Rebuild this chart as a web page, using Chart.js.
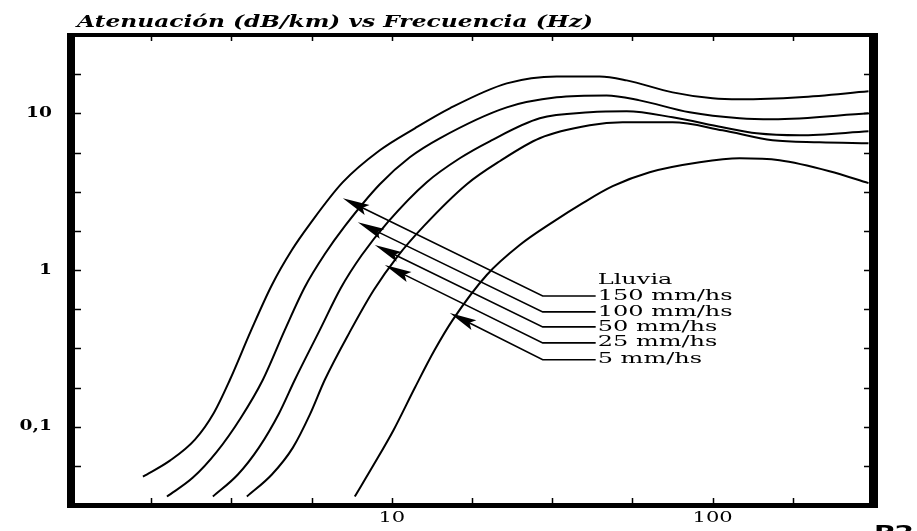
<!DOCTYPE html>
<html>
<head>
<meta charset="utf-8">
<script src="https://cdn.jsdelivr.net/npm/chart.js@4.4.1/dist/chart.umd.min.js"></script>
<style>
  html, body { margin: 0; padding: 0; background: #fff; }
  #wrap { width: 917px; height: 531px; }
</style>
</head>
<body>
<div id="wrap"><canvas id="attChart" width="917" height="531"></canvas></div>
<script>
// frequency (Hz) / attenuation (dB/km) pairs, one set per rain rate
var freq150 = [1.676, 2.034, 2.434, 2.790, 3.129, 3.637, 4.229, 4.881, 5.553, 7.037, 9.176, 11.80, 15.16, 22.82, 32.66, 44.46, 53.97, 75.05, 100, 121.4, 186.6, 306.2];
var att150  = [0.0480, 0.0607, 0.0827, 0.1228, 0.1993, 0.4088, 0.8025, 1.341, 1.963, 3.635, 5.811, 8.027, 10.76, 15.53, 17.21, 17.21, 16.23, 13.61, 12.46, 12.28, 12.65, 13.81];

var freq100 = [1.991, 2.399, 2.850, 3.385, 3.964, 4.642, 5.358, 6.184, 7.138, 9.176, 11.38, 14.11, 22.82, 32.66, 46.74, 59.24, 84.79, 121.4, 153.8, 306.2];
var att100  = [0.0358, 0.0473, 0.0693, 0.1141, 0.1993, 0.4148, 0.7790, 1.264, 1.906, 3.529, 5.245, 6.931, 10.92, 12.65, 13.02, 12.10, 10.15, 9.294, 9.158, 10.0];

var freq50 = [2.769, 3.313, 3.852, 4.446, 4.987, 5.968, 6.936, 8.064, 9.717, 12.85, 16.29, 20.20, 28.91, 41.39, 53.97, 75.05, 107.4, 137.1, 186.6, 306.2];
var att50  = [0.0358, 0.0495, 0.0735, 0.1210, 0.1993, 0.4148, 0.7676, 1.246, 2.021, 3.635, 5.168, 6.633, 9.294, 10.15, 10.30, 9.431, 8.145, 7.459, 7.243, 7.681];

var freq25 = [3.534, 4.229, 4.916, 5.553, 6.184, 7.398, 8.788, 10.44, 12.58, 17.13, 21.70, 28.91, 41.39, 52.44, 75.05, 107.4, 153.8, 215.4, 306.2];
var att25  = [0.0358, 0.0495, 0.0735, 0.1193, 0.1993, 0.4028, 0.7458, 1.228, 1.906, 3.529, 4.946, 6.931, 8.385, 8.763, 8.763, 7.794, 6.730, 6.536, 6.441];

var freq5 = [7.667, 8.788, 10.14, 11.80, 13.61, 15.49, 19.77, 25.05, 31.74, 39.36, 48.81, 63.65, 91.11, 121.4, 161.7, 231.4, 306.2];
var att5  = [0.0358, 0.0573, 0.0957, 0.1772, 0.3093, 0.4803, 0.9293, 1.443, 2.021, 2.672, 3.428, 4.209, 4.874, 5.168, 5.019, 4.272, 3.583];

// quarter-decade tick marks and the labelled ones
var xTickValues = [1.778, 3.162, 5.623, 10, 17.78, 31.62, 56.23, 100, 177.8];
var yTickValues = [0.05623, 0.1, 0.1778, 0.3162, 0.5623, 1, 1.778, 3.162, 5.623, 10, 17.78];
var xLabelValues = [10, 100];
var xLabelTexts = ['10', '100'];
var yLabelValues = [0.1, 1, 10];
var yLabelTexts = ['0,1', '1', '10'];

// call-out labels and where their arrows point (data coordinates)
var rainLabels = ['150 mm/hs', '100 mm/hs', '50 mm/hs', '25 mm/hs', '5 mm/hs'];
var arrowFreq = [7.037, 7.837, 8.851, 9.511, 15.16];
var arrowAtt = [2.874, 2.021, 1.443, 1.076, 0.532];
var labelAtt = [0.6831, 0.5401, 0.4334, 0.3428, 0.2672];

function pairs(xs, ys) {
    return xs.map(function (v, i) { return { x: v, y: ys[i] }; });
}

function stretchText(ctx, text, x, y, sx, align) {
    var w = ctx.measureText(text).width * sx;
    var left = align === 'right' ? x - w : (align === 'center' ? x - w / 2 : x);
    ctx.save();
    ctx.translate(left, y);
    ctx.scale(sx, 1);
    ctx.textAlign = 'left';
    ctx.fillText(text, 0, 0);
    ctx.restore();
}

var decorPlugin = {
    id: 'decor',
    afterDatasetsDraw: function (chart) {
        var ctx = chart.ctx;
        var a = chart.chartArea;
        var xs = chart.scales.x, ys = chart.scales.y;
        ctx.save();
        ctx.fillStyle = '#000';
        ctx.strokeStyle = '#000';

        // heavy frame
        ctx.fillRect(a.left - 4, a.top - 2, 8, a.bottom - a.top + 5);
        ctx.fillRect(a.right - 4, a.top - 2, 9, a.bottom - a.top + 5);
        ctx.fillRect(a.left - 4, a.top - 2, a.right - a.left + 9, 4);
        ctx.fillRect(a.left - 4, a.bottom - 2, a.right - a.left + 9, 5);

        // inward ticks on all four sides
        ctx.lineWidth = 1.5;
        ctx.beginPath();
        xTickValues.forEach(function (v) {
            var px = Math.round(xs.getPixelForValue(v)) + 0.5;
            ctx.moveTo(px, a.bottom - 2); ctx.lineTo(px, a.bottom - 7);
            ctx.moveTo(px, a.top + 2); ctx.lineTo(px, a.top + 6);
        });
        yTickValues.forEach(function (v) {
            var py = Math.round(ys.getPixelForValue(v)) + 0.5;
            ctx.moveTo(a.left + 4, py); ctx.lineTo(a.left + 10, py);
            ctx.moveTo(a.right - 4, py); ctx.lineTo(a.right - 9, py);
        });
        ctx.stroke();

        // tick labels
        ctx.textBaseline = 'middle';
        ctx.font = 'bold 14px "DejaVu Serif"';
        yLabelValues.forEach(function (v, i) {
            stretchText(ctx, yLabelTexts[i], a.left - 19, ys.getPixelForValue(v), 1.33, 'right');
        });
        ctx.font = '14px "DejaVu Serif"';
        xLabelValues.forEach(function (v, i) {
            stretchText(ctx, xLabelTexts[i], xs.getPixelForValue(v), a.bottom + 13, 1.5, 'center');
        });

        // call-outs with arrows
        var elbowX = xs.getPixelForValue(29.54);
        var textX = xs.getPixelForValue(43.83);
        ctx.font = '14px "DejaVu Serif"';
        var sx = 135 / ctx.measureText(rainLabels[0]).width;
        stretchText(ctx, 'Lluvia', textX, ys.getPixelForValue(0.8636), sx, 'left');
        ctx.lineWidth = 1.6;
        rainLabels.forEach(function (lbl, i) {
            var ly = ys.getPixelForValue(labelAtt[i]);
            var tx = xs.getPixelForValue(arrowFreq[i]);
            var ty = ys.getPixelForValue(arrowAtt[i]);
            var dx = elbowX - tx, dy = ly - ty;
            var len = Math.sqrt(dx * dx + dy * dy);
            var ux = dx / len, uy = dy / len;
            var nx = -uy, ny = ux;
            ctx.beginPath();
            ctx.moveTo(textX - 2, ly);
            ctx.lineTo(elbowX, ly);
            ctx.lineTo(tx + ux * 20, ty + uy * 20);
            ctx.stroke();
            var hl = 27, hw = 5.5;
            ctx.beginPath();
            ctx.moveTo(tx, ty);
            ctx.lineTo(tx + ux * hl + nx * hw, ty + uy * hl + ny * hw);
            ctx.lineTo(tx + ux * (hl - 5), ty + uy * (hl - 5));
            ctx.lineTo(tx + ux * hl - nx * hw, ty + uy * hl - ny * hw);
            ctx.closePath();
            ctx.fill();
            stretchText(ctx, lbl, textX, ly, sx, 'left');
        });

        // title and page mark
        ctx.textBaseline = 'alphabetic';
        ctx.font = 'bold italic 17px "DejaVu Serif"';
        var tTitle = 'Atenuación (dB/km) vs Frecuencia (Hz)';
        stretchText(ctx, tTitle, 77, 27, 516 / ctx.measureText(tTitle).width, 'left');
        ctx.font = 'bold 18px "DejaVu Sans"';
        stretchText(ctx, 'P2', 874, 538, 40 / ctx.measureText('P2').width, 'left');
        ctx.restore();
    }
};

function series(xs, ys) {
    return {
        data: pairs(xs, ys),
        borderColor: '#000',
        borderWidth: 2,
        pointRadius: 0,
        fill: false,
        cubicInterpolationMode: 'monotone'
    };
}

var attChart = new Chart(document.getElementById('attChart'), {
    type: 'line',
    data: {
        datasets: [
            series(freq150, att150),
            series(freq100, att100),
            series(freq50, att50),
            series(freq25, att25),
            series(freq5, att5)
        ]
    },
    options: {
        responsive: false,
        animation: false,
        layout: { padding: { left: 71, top: 35, right: 44, bottom: 26 } },
        plugins: {
            legend: { display: false },
            tooltip: { enabled: false },
            title: { display: false }
        },
        scales: {
            x: { type: 'logarithmic', min: 1, max: 316.23, display: false },
            y: { type: 'logarithmic', min: 0.031623, max: 31.623, display: false }
        }
    },
    plugins: [decorPlugin]
});
</script>
</body>
</html>
